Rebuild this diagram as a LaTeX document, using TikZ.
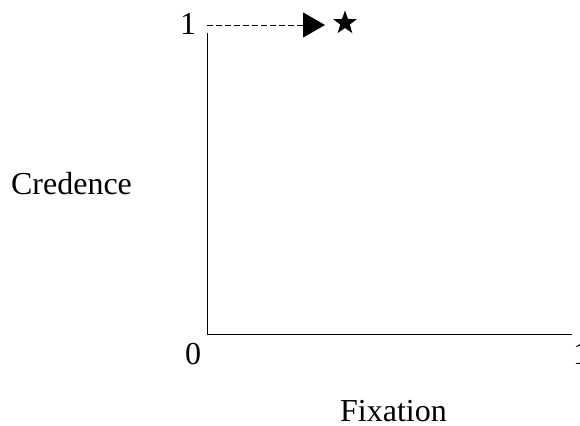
\documentclass[tikz,border=0pt]{standalone}
\usepackage{fontspec}
\setmainfont{Liberation Serif}
\usetikzlibrary{arrows.meta,shapes.geometric}
\begin{document}
\begin{tikzpicture}[x=1pt,y=1pt,
  lbl/.style={inner sep=0pt,anchor=base,font=\fontsize{32}{38}\selectfont},
  axisline/.style={line width=0.9pt},
  dashline/.style={line width=0.9pt,dash pattern=on 6pt off 3pt,-{Triangle[length=22pt,width=25pt]}},
  starmark/.style={star,star points=5,star point ratio=2.5,fill=black,draw=none,minimum size=25pt,inner sep=0pt}]
\useasboundingbox (0,0) rectangle (580,425);
\coordinate (O) at (207,91);
\coordinate (Ytop) at (207,392);
\coordinate (Xend) at (572,91);
\coordinate (D0) at (207,400);
\coordinate (D1) at (325,400);
\draw[axisline] (Ytop) -- (O) -- (Xend);
\draw[dashline] (D0) -- (D1);
\node[starmark] (st) at (345,402) {};
\node[lbl] (one) at (188,390) {1};
\node[lbl] (zero) at (193,60) {0};
\node[lbl] (xone) at (581,60) {1};
\node[lbl] (cred) at (71.5,230) {Credence};
\node[lbl,text depth=0pt] (fix) at (393.5,3.5) {Fixation};
\end{tikzpicture}
\end{document}
